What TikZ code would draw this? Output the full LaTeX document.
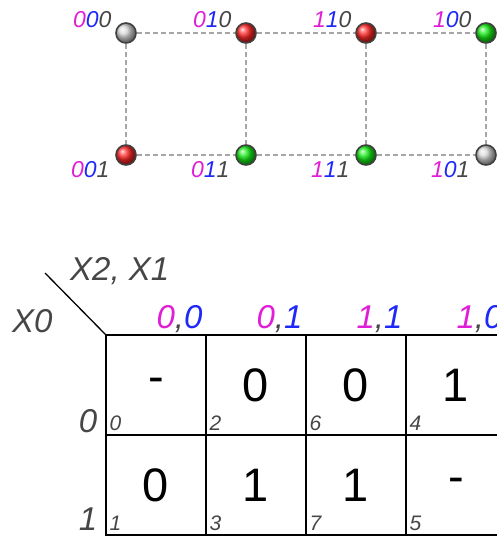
\documentclass[tikz,border=0pt]{standalone}
\usepackage{fontspec}
\setmainfont{Liberation Sans}
\usepackage{tikz}
\definecolor{mag}{RGB}{225,30,215}
\definecolor{blu}{RGB}{30,40,250}
\definecolor{gry}{RGB}{70,70,70}
\newcommand{\tribit}[3]{\textcolor{mag}{#1}\textcolor{blu}{#2}\textcolor{gry}{#3}}
\newcommand{\pairbit}[2]{\textcolor{mag}{#1}\textcolor{gry}{,}\textcolor{blu}{#2}}
\tikzset{
	ball/.style={circle,draw=black!75,line width=1.6pt,minimum size=20pt,inner sep=0pt,shading=ball,ball color=#1},
	edge/.style={dash pattern=on 5pt off 3pt,gray!70,line width=1.3pt},
	bits/.style={font=\fontsize{23}{23}\selectfont\itshape},
	cell/.style={draw,line width=1.3pt,minimum size=100pt,inner sep=0pt,font=\fontsize{47}{47}\selectfont},
	idx/.style={font=\fontsize{21}{21}\selectfont\itshape,text=gry,inner sep=0pt},
	head/.style={font=\fontsize{33}{33}\selectfont\itshape,inner sep=0pt}
}

\begin{document}
\begin{tikzpicture}[x=1pt,y=-1pt]
	\useasboundingbox (0,0) rectangle (497,536);
	\clip (0,0) rectangle (497,536);

	% cube vertices
	\foreach \n/\x/\y/\c in {000/126/33/gray!30,010/246/33/red!85!white,110/366/33/red!85!white,100/486/33/green!85!gray,
		001/126/155/red!85!white,011/246/155/green!85!gray,111/366/155/green!85!gray,101/486/155/gray!30}
		\node[ball=\c] (v\n) at (\x,\y) {};

	\draw[edge] (v000)--(v010)--(v110)--(v100) (v001)--(v011)--(v111)--(v101)
		(v000)--(v001) (v010)--(v011) (v110)--(v111) (v100)--(v101);

	\foreach \a/\b/\c in {0/0/0,0/1/0,1/1/0,1/0/0}
		\node[bits,anchor=base east,xshift=-11pt,yshift=6pt] (t\a\b\c) at (v\a\b\c) {\tribit{\a}{\b}{\c}};
	\foreach \a/\b/\c in {0/0/1,0/1/1,1/1/1,1/0/1}
		\node[bits,anchor=base east,xshift=-13pt,yshift=-22pt] (t\a\b\c) at (v\a\b\c) {\tribit{\a}{\b}{\c}};

	% karnaugh map
	\foreach \i/\col/\row/\v in {0/0/0/-,2/1/0/0,6/2/0/0,4/3/0/1,1/0/1/0,3/1/1/1,7/2/1/1,5/3/1/-}{
		\node[cell] (m\i) at ({156+100*\col},{385+100*\row}) {\v};
		\node[idx,anchor=base west,xshift=4pt,yshift=5pt] (n\i) at (m\i.south west) {\i};
	}

	\foreach \i/\a/\b in {0/0/0,2/0/1,6/1/1,4/1/0}
		\node[head,anchor=base east,xshift=-4pt,yshift=6pt] (h\i) at (m\i.north east) {\pairbit{\a}{\b}};
	\node[head,text=gry,anchor=base east,xshift=-8pt,yshift=3pt] (r0) at (m0.south west) {0};
	\node[head,text=gry,anchor=base east,xshift=-8pt,yshift=5pt] (r1) at (m1.south west) {1};

	\coordinate (d) at (45,273);
	\draw[line width=1.3pt] (d) -- (m0.north west);
	\node[head,text=gry,anchor=base west] (xs) at (70,280) {X2, X1};
	\node[head,text=gry,anchor=base west] (xr) at (12,332) {X0};
\end{tikzpicture}
\end{document}
